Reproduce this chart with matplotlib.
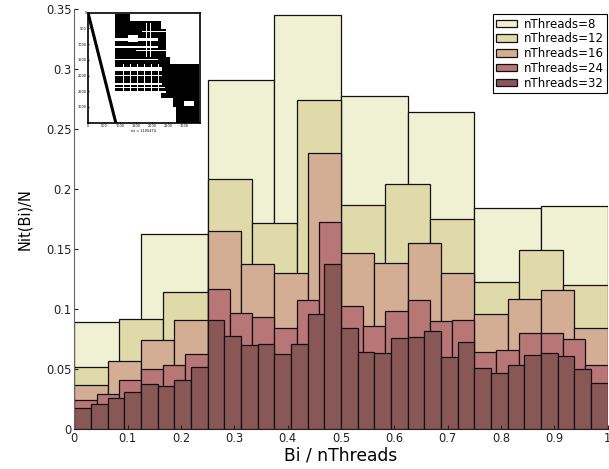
import numpy as np
import matplotlib
matplotlib.use("Agg")
import matplotlib.pyplot as plt

plt.rcParams['font.family'] = ['DejaVu Sans']

# ---- data ----
threads = [8, 12, 16, 24, 32]
labels = ["nThreads=8", "nThreads=12", "nThreads=16", "nThreads=24", "nThreads=32"]
colors = ["#F0F0D2", "#E0D9AA", "#D4AE94", "#B97677", "#8A5757"]

vals_8 = [0.0897, 0.163, 0.291, 0.3456, 0.2775, 0.264, 0.1847, 0.186]
vals_12 = [0.0517, 0.0919, 0.1144, 0.2086, 0.172, 0.2744, 0.1867, 0.204,
           0.175, 0.123, 0.149, 0.1206]
vals_16 = [0.0367, 0.0572, 0.0742, 0.0914, 0.165, 0.138, 0.1306, 0.230,
           0.147, 0.139, 0.1556, 0.130, 0.0958, 0.109, 0.1158, 0.0844]
vals_24 = [0.0242, 0.0297, 0.0408, 0.0506, 0.0539, 0.0625, 0.1167, 0.0967,
           0.0939, 0.0842, 0.108, 0.1728, 0.103, 0.0858, 0.0986, 0.1078,
           0.0903, 0.0914, 0.0642, 0.0664, 0.0806, 0.0806, 0.0756, 0.0533]
vals_32 = [0.0175, 0.0208, 0.0258, 0.0308, 0.038, 0.0358, 0.0414, 0.0517,
           0.0908, 0.0775, 0.070, 0.0711, 0.0625, 0.0711, 0.0961, 0.1378,
           0.0842, 0.0642, 0.0633, 0.0758, 0.0769, 0.0817, 0.060, 0.073,
           0.0508, 0.0467, 0.0533, 0.0619, 0.0636, 0.0608, 0.0506, 0.0389]
all_vals = [vals_8, vals_12, vals_16, vals_24, vals_32]

xticks = [0, 0.1, 0.2, 0.3, 0.4, 0.5, 0.6, 0.7, 0.8, 0.9, 1]
xticklabels = ["0", "0.1", "0.2", "0.3", "0.4", "0.5", "0.6", "0.7", "0.8", "0.9", "1"]
yticks = [0, 0.05, 0.1, 0.15, 0.2, 0.25, 0.3, 0.35]
yticklabels = ["0", "0.05", "0.1", "0.15", "0.2", "0.25", "0.3", "0.35"]

# sparsity pattern of the inset (row0, row1, col0, col1)
spy_size = 3500
spy_blocks = [
    (20, 450, 840, 1600),
    (250, 500, 840, 2280),
    (500, 710, 840, 2430),
    (710, 920, 840, 1250),
    (710, 920, 1550, 2430),
    (920, 1400, 840, 2430),
    (1400, 1610, 840, 2550),
    (1610, 2190, 840, 3480),
    (2190, 2565, 840, 3480),
    (2565, 2720, 2280, 3480),
    (2720, 2990, 2650, 3480),
    (2990, 3500, 2750, 3480),
]
spy_gaps = [
    (780, 880, 840, 2200), (1060, 1110, 840, 2200), (1450, 1480, 840, 2200),
    (1720, 1830, 840, 2300), (1960, 2010, 840, 2300), (2240, 2290, 840, 2300),
    (2340, 2390, 840, 2400), (2480, 2530, 840, 2450), (2800, 2950, 3000, 3300),
    (30, 240, 1300, 1600), (560, 600, 1700, 2430), (1180, 1220, 1500, 2430),
]
spy_diag_end_col = 870

# ---- figure ----
fig = plt.figure(figsize=(6.09, 4.69), dpi=100)
ax = fig.add_axes([74.3 / 609, 39.7 / 469, 533.3 / 609, 420 / 469])

for n, vals, col, lab in zip(threads, all_vals, colors, labels):
    w = 1.0 / n
    lefts = np.arange(n) * w
    ax.bar(lefts, vals, width=w, align='edge', color=col, edgecolor='#111111',
           linewidth=0.9, label=lab)

ax.set_xlim(0, 1)
ax.set_ylim(0, 0.35)
ax.set_xticks(xticks)
ax.set_xticklabels(xticklabels)
ax.set_yticks(yticks)
ax.set_yticklabels(yticklabels)
ax.tick_params(direction='in', length=3, labelsize=8.3, pad=2, colors='#222222')
ax.spines['top'].set_visible(False)
ax.spines['right'].set_visible(False)
ax.spines['left'].set_color('#666666')
ax.spines['bottom'].set_color('#222222')
ax.set_xlabel("Bi / nThreads", fontsize=12.3, labelpad=1)
ax.set_ylabel("Nit(Bi)/N", fontsize=10.5, labelpad=10)

leg = ax.legend(loc='upper left', bbox_to_anchor=(492.7 / 609, (469 - 14) / 469),
                bbox_transform=fig.transFigure, borderaxespad=0, fontsize=8.5,
                frameon=True, fancybox=False, framealpha=1, edgecolor='black',
                handlelength=1.8, handleheight=0.6, labelspacing=0.15,
                handletextpad=0.5, borderpad=0.3)
leg.get_frame().set_linewidth(0.8)

# ---- inset spy plot ----
cell = 10
m = spy_size // cell
mat = np.zeros((m, m))
for r0, r1, c0, c1 in spy_blocks:
    mat[r0 // cell:r1 // cell, c0 // cell:c1 // cell] = 1
for r0, r1, c0, c1 in spy_gaps:
    mat[r0 // cell:r1 // cell, c0 // cell:c1 // cell] = 0
rr, cc = np.indices(mat.shape)
mat[(cc % 11 == 0) & (rr > 160) & (rr < 250) & (cc < 230)] = 0
mat[(cc % 13 == 0) & (rr > 30) & (rr < 140) & (cc > 150)] = 0

iax = fig.add_axes([88 / 609, (469 - 122.7) / 469, 111.7 / 609, 110 / 469])
iax.imshow(mat, cmap='gray_r', interpolation='nearest', aspect='auto',
           extent=[0, spy_size, spy_size, 0])
iax.plot([0, spy_diag_end_col], [0, spy_size], color='black', linewidth=2.2)
iax.set_xlim(0, spy_size)
iax.set_ylim(spy_size, 0)
iax.set_xticks([0, 500, 1000, 1500, 2000, 2500, 3000])
iax.set_yticks([0, 500, 1000, 1500, 2000, 2500, 3000])
iax.tick_params(labelsize=2.5, length=1, pad=1, direction='in')
iax.set_xlabel("nz = 1105474", fontsize=2.5, labelpad=0.5)
for s in iax.spines.values():
    s.set_linewidth(1.2)

fig.savefig("out.png", dpi=100)
